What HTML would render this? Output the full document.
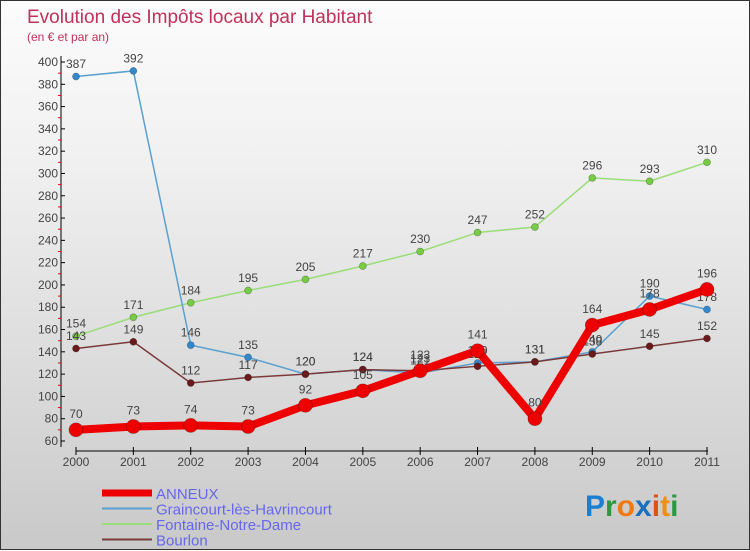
<!DOCTYPE html>
<html><head><meta charset="utf-8"><style>
body{margin:0;width:750px;height:550px;overflow:hidden;font-family:"Liberation Sans",sans-serif}
#wrap{position:relative;width:748px;height:548px;border:1px solid #333;background:linear-gradient(#fcfcfc,#f0f0f0 30%,#c9c9c9)}
svg{position:absolute;left:0;top:0}
</style></head><body>
<div id="wrap">
<svg id="c" width="750" height="550">
<text x="26" y="22" font-size="19" fill="#c0305a">Evolution des Impôts locaux par Habitant</text>
<text x="26" y="40" font-size="12" fill="#c0305a">(en € et par an)</text>
<text x="584" y="515" font-size="30" font-weight="bold"><tspan fill="#1a7fd0">P</tspan><tspan fill="#2a9a40">r</tspan><tspan fill="#f07a10">o</tspan><tspan fill="#1a6fc0">x</tspan><tspan fill="#e05010">i</tspan><tspan fill="#f09010">t</tspan><tspan fill="#2a9a40">i</tspan></text>
</svg>
</div>
<script>
const years=[2000,2001,2002,2003,2004,2005,2006,2007,2008,2009,2010,2011];
const anneux=[70,73,74,73,92,105,123,141,80,164,178,196];
const graincourt=[387,392,146,135,120,124,121,130,131,140,190,178];
const fontaine=[154,171,184,195,205,217,230,247,252,296,293,310];
const bourlon=[143,149,112,117,120,124,123,127,131,138,145,152];
const yTicks=[60,80,100,120,140,160,180,200,220,240,260,280,300,320,340,360,380,400];
const seriesNames=["ANNEUX","Graincourt-lès-Havrincourt","Fontaine-Notre-Dame","Bourlon"];
const NS="http://www.w3.org/2000/svg";
const svg=document.getElementById('c');
const x=i=>75+i*(706-75)/11;
const y=v=>440-(v-60)*(379/340);
function mk(t,a,p){const e=document.createElementNS(NS,t);for(const k in a)e.setAttribute(k,a[k]);(p||svg).appendChild(e);return e;}
// axes
const ax=mk('g',{});


mk('line',{x1:60,y1:55,x2:60,y2:446,stroke:'#000','stroke-width':1},ax);
mk('line',{x1:75,y1:450,x2:707,y2:450,stroke:'#000','stroke-width':1},ax);
yTicks.forEach(v=>{
 mk('line',{x1:60,y1:y(v),x2:64,y2:y(v),stroke:'#000'},ax);
 if(v<400) mk('line',{x1:57,y1:y(v+10),x2:60,y2:y(v+10),stroke:'#e00'},ax);
 const t=mk('text',{x:57,y:y(v)+4,'font-size':12,'text-anchor':'end',fill:'#444'},ax);
 
 
 t.textContent=v;
});
years.forEach((yr,i)=>{
 mk('line',{x1:x(i),y1:446,x2:x(i),y2:454,stroke:'#000'},ax);
 const t=mk('text',{x:x(i),y:465,'font-size':12,'text-anchor':'middle',fill:'#444'},ax);
 
 
 t.textContent=yr;
});
function series(data,color,w,r,name,dot){
 const g=mk('g',{});
 
 
 mk('polyline',{points:data.map((v,i)=>x(i)+','+y(v)).join(' '),fill:'none',stroke:color,'stroke-width':w,'stroke-linejoin':'round'},g);
 data.forEach((v,i)=>{
  const c=mk('circle',{cx:x(i),cy:y(v),r:r,fill:dot,stroke:'rgba(0,0,0,0.3)','stroke-width':0.7},g);
  
  
  const t=mk('text',{x:x(i),y:y(v)-r-5,'font-size':12,'text-anchor':'middle',fill:'#444'},g);
  
  
  t.textContent=v;
 });
}
series(fontaine,'#99dd77',1.5,3.5,'fontaine-series','#77cc44');
series(graincourt,'#5aa0d0',1.5,3.5,'graincourt-series','#3388cc');
series(bourlon,'#7a3a3a',1.5,3.5,'bourlon-series','#6a1a1a');
series(anneux,'#ee0000',8,7,'anneux-series','#ee0000');
// legend
const lg=mk('g',{});


const lc=['#ee0000','#5aa0d0','#99dd77','#7a3a3a'],lw=[7,2,2,2];
seriesNames.forEach((n,i)=>{
 const yy=492+i*15.5;
 mk('line',{x1:101,y1:yy,x2:151,y2:yy,stroke:lc[i],'stroke-width':lw[i]},lg);
 const t=mk('text',{x:155,y:yy+6,'font-size':15,fill:'#6666ee'},lg);
 
 
 t.textContent=n;
});
</script>
</body></html>
